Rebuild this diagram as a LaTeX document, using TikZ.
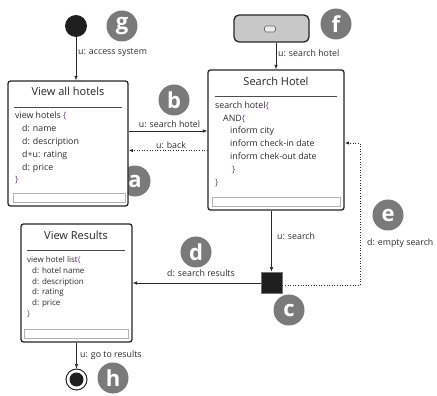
\documentclass[tikz,border=0pt]{standalone}
\usepackage{fontspec}
\setmainfont{Open Sans}
\usetikzlibrary{arrows.meta,calc}
\definecolor{ink}{HTML}{2A2A2A}
\definecolor{badgegray}{HTML}{7A7A7A}
\definecolor{brace}{HTML}{7A3A8A}
\definecolor{fgray}{HTML}{C8C8C8}
\begin{document}
\begin{tikzpicture}[x=1pt,y=-1pt,
  box/.style={draw=black!85, line width=1.3pt, rounded corners=2.5pt, fill=white, inner sep=0pt},
  conn/.style={draw=ink, line width=0.6pt, -{Latex[length=4.5pt,width=3.5pt]}},
  dconn/.style={conn, dotted, line width=0.9pt},
  lab/.style={font=\fontsize{8.8}{10}\selectfont, text=ink, inner sep=0pt},
  title/.style={font=\fontsize{11}{13}\selectfont, text=black!85, inner sep=0pt},
  body/.style={font=\fontsize{8.8}{12.8}\selectfont, text=ink, align=left, anchor=north west, inner sep=0pt},
  smallbody/.style={font=\fontsize{8}{10.9}\selectfont, text=ink, align=left, anchor=north west, inner sep=0pt},
  badge/.style={circle, fill=badgegray, minimum size=31pt, inner sep=0pt, text=white, font=\fontsize{22}{22}\selectfont\bfseries},
  sep/.style={draw=black!70, line width=0.7pt},
  bar/.style={draw=black!30, line width=0.5pt}
]
\useasboundingbox (0,0) rectangle (437,396);
\newcommand{\br}[1]{\textcolor{brace}{#1}}

% badges (drawn first, under the labels)
\node[badge] (bg) at (122,26) {g};
\node[badge] (bf) at (336,24) {f};
\node[badge] (bb) at (174,100) {b};
\node[badge] (ba) at (135,181) {a};
\node[badge] (be) at (388,215) {e};
\node[badge] (bd) at (196,252) {d};
\node[badge] (bc) at (289,310) {c};
\node[badge] (bh) at (113,378) {h};

% start and end
\node[circle, fill=black!88, minimum size=22pt, inner sep=0pt] (start) at (76,26) {};
\node[circle, draw=black!85, line width=1pt, fill=white, minimum size=21pt, inner sep=0pt] (end) at (76.5,379.5) {};
\node[circle, fill=black!88, minimum size=14pt, inner sep=0pt] (endin) at (end.center) {};

% View all hotels
\node[box, minimum width=120pt, minimum height=125pt] (vah) at (68,143.5) {};
\node[title] (vaht) at (68,91) {View all hotels};
\draw[sep] (14,107) -- (122,107);
\node[body] (vahb) at (15,112) {view hotels \br{\{}\\
\hspace*{7pt}d: name\\
\hspace*{7pt}d: description\\
\hspace*{7pt}d+u: rating\\
\hspace*{7pt}d: price\\
\br{\}}};
\draw[bar] (13,193) rectangle (125,202);

% Search Hotel
\node[box, minimum width=136pt, minimum height=140pt] (sh) at (276,140) {};
\node[title] (sht) at (276,81) {Search Hotel};
\draw[sep] (215,96) -- (337,96);
\node[body] (shb) at (215,101.5) {search hotel\br{\{}\\
\hspace*{8pt}AND\br{\{}\\
\hspace*{15pt}inform city\\
\hspace*{15pt}inform check-in date\\
\hspace*{15pt}inform chek-out date\\
\hspace*{17pt}\br{\}}\\
\br{\}}};
\draw[bar] (212,197) rectangle (340,206);

% View Results
\node[box, minimum width=111pt, minimum height=118pt] (vr) at (76.5,283) {};
\node[title] (vrt) at (76,235) {View Results};
\draw[sep] (27,250) -- (125,250);
\node[smallbody] (vrb) at (27,256) {view hotel list\br{\{}\\
\hspace*{5pt}d: hotel name\\
\hspace*{5pt}d: description\\
\hspace*{5pt}d: rating\\
\hspace*{5pt}d: price\\
\br{\}}};
\draw[bar] (24,329) rectangle (128,338);

% f widget
\node[draw=black!85, line width=1.3pt, rounded corners=5pt, fill=fgray, minimum width=75pt, minimum height=27pt, inner sep=0pt] (f) at (271.5,28.5) {};
\node[draw=black!60, line width=0.6pt, rounded corners=1.5pt, fill=black!8, minimum width=11pt, minimum height=6pt, inner sep=0pt] (ficon) at (270,29) {};

% decision square
\node[draw=black!55, line width=0.8pt, fill=black!88, minimum size=21pt, inner sep=0pt] (c) at (271.5,282.5) {};

% helper coordinates
\coordinate (ecorner1) at (360,285);
\coordinate (ecorner2) at (360,143);

% connectors
\draw[conn] (start.south) -- (start.south |- vah.north);
\node[lab, anchor=west] (l1) at (78,53) {u: access system};

\draw[conn] (sh.north |- f.south) -- (sh.north);
\node[lab, anchor=west] (l2) at (278,53) {u: search hotel};

\draw[conn] (vah.east |- 0,131) -- (sh.west |- 0,131);
\node[lab] (l3) at (169.5,124) {u: search hotel};

\draw[dconn] (sh.west |- 0,150.5) -- (vah.east |- 0,150.5);
\node[lab] (l4) at (171,145) {u: back};

\draw[conn] (c.north |- sh.south) -- (c.north);
\node[lab, anchor=west] (l5) at (277,236) {u: search};

\draw[conn] (c.west |- 0,283) -- (vr.east |- 0,283);
\node[lab] (l6) at (201,273.5) {d: search results};

\draw[dconn] (c.east |- ecorner1) -- (ecorner1) -- (ecorner2) -- (sh.east |- ecorner2);
\node[lab, anchor=west] (l7) at (367,243) {d: empty search};

\draw[conn] (end.north |- vr.south) -- (end.north);
\node[lab, anchor=west] (l8) at (80,355) {u: go to results};
\end{tikzpicture}
\end{document}
